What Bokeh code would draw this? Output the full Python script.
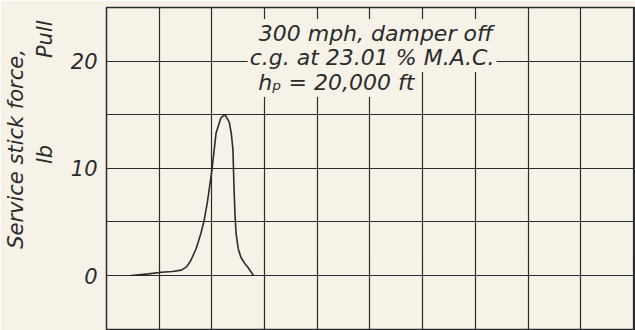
from bokeh.plotting import figure
from bokeh.models import Label, FixedTicker, Range1d
from bokeh.embed import file_html
from bokeh.resources import INLINE

# Data (x in grid units, y in lb)
time_x = [0.47, 0.8, 1.04, 1.25, 1.42, 1.52, 1.6, 1.7, 1.79, 1.86, 1.92, 2.0, 2.08, 2.17, 2.25,
          2.33, 2.37, 2.40, 2.42, 2.44, 2.46, 2.5, 2.55, 2.62, 2.68, 2.79]
force_y = [0.0, 0.15, 0.3, 0.38, 0.5, 0.8, 1.4, 2.5, 3.9, 5.3, 7.0, 9.8, 13.3, 14.7, 15.0,
           14.3, 13.2, 11.7, 8.2, 5.5, 3.9, 2.5, 1.7, 1.15, 0.8, 0.0]
y_ticks = [0, 10, 20]
y_grid = [-5, 0, 5, 10, 15, 20, 25]
x_grid = [0, 1, 2, 3, 4, 5, 6, 7, 8, 9, 10]
note_lines = ["300 mph, damper off", "c.g. at 23.01 % M.A.C.", "h\u209a = 20,000 ft"]
title_main = "Service stick force,"
title_unit = "lb"
title_dir = "Pull"

BG = "#f6f2e8"
INK = "#2b2b2b"
FONT = "DejaVu Sans"
NB = "\u00a0"

p = figure(width=635, height=330, output_backend="svg", toolbar_location=None,
           x_range=Range1d(0, 10.04), y_range=Range1d(-5.13, 25.0),
           min_border_left=105, min_border_right=0, min_border_top=7, min_border_bottom=0)
p.background_fill_color = BG
p.border_fill_color = BG
p.outline_line_color = INK
p.outline_line_width = 1.5

p.xaxis.visible = False
p.xgrid.ticker = FixedTicker(ticks=x_grid)
p.ygrid.ticker = FixedTicker(ticks=y_grid)
for g in (p.xgrid, p.ygrid):
    g.grid_line_color = INK
    g.grid_line_width = 1.2

ax = p.yaxis[0]
ax.ticker = FixedTicker(ticks=y_ticks)
ax.axis_line_color = None
ax.major_tick_line_color = None
ax.minor_tick_line_color = None
ax.major_label_standoff = 3
ax.major_label_text_font = FONT
ax.major_label_text_font_style = "italic"
ax.major_label_text_font_size = "21px"
ax.major_label_text_color = INK
# two-line rotated axis title: "Service stick force," over "lb ... Pull"
ax.axis_label = (NB * 6 + title_main + "\n" + NB * 23 + title_unit + NB * 13 + title_dir)
ax.axis_label_standoff = 11
ax.axis_label_text_font = FONT
ax.axis_label_text_font_style = "italic"
ax.axis_label_text_font_size = "21px"
ax.axis_label_text_color = INK

p.line(time_x, force_y, line_color=INK, line_width=1.6)

# Annotation block with paper-coloured background masking the grid
# (drawn bottom line first so later boxes only overlap empty ascent space)
note_pos = [(5.11, 22.57), (5.04, 20.34), (4.36, 18.0)]
for (tx, ty), txt in reversed(list(zip(note_pos, note_lines))):
    p.add_layout(Label(x=tx, y=ty, text=txt, text_font=FONT, text_font_style="italic",
                       text_font_size="22px", text_color=INK, text_align="center",
                       text_baseline="alphabetic",
                       background_fill_color=BG, padding=2))

open("out.html", "w").write(file_html(p, INLINE))
